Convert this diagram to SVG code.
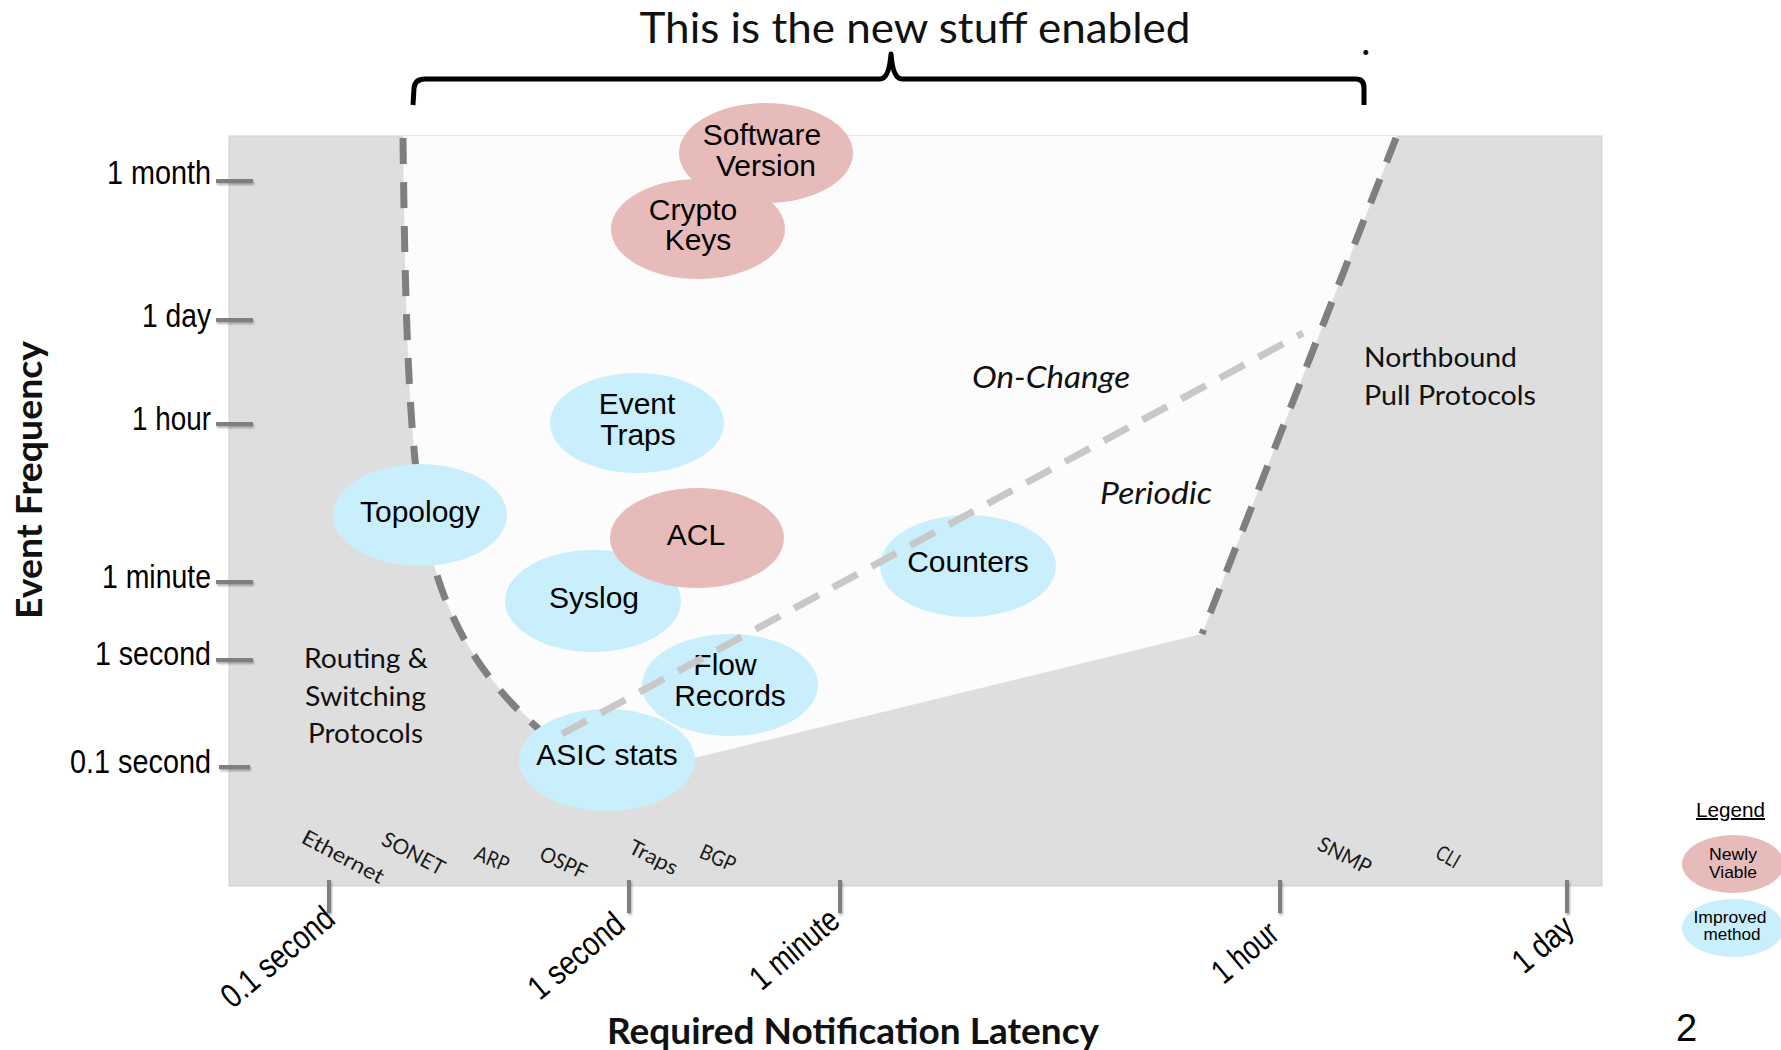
<svg xmlns="http://www.w3.org/2000/svg" width="1781" height="1050" viewBox="0 0 1781 1050">
  <defs>
    <style>
      .bg { fill: #ffffff; }
      .zone { fill: #dedede; }
      .open { fill: #fcfcfc; }
      .edge { fill: none; stroke: #7f7f7f; stroke-width: 7; stroke-dasharray: 26 18; }
      .split { fill: none; stroke: #c8c8c8; stroke-width: 7; stroke-dasharray: 28 16; }
      .tick { stroke: #7f7f7f; stroke-width: 4; }
      .new { fill: #e8bbbb; }
      .imp { fill: #c9effc; }
      .lbl { font-family: "Liberation Sans", Arial, sans-serif; font-size: 30px; fill: #000; text-anchor: middle; }
      .axn { font-family: "Liberation Sans", Arial, sans-serif; font-size: 34px; fill: #000; }
      .hum { font-family: Lato, "Open Sans", sans-serif; fill: #111; }
      .proto { font-family: Lato, "Open Sans", sans-serif; font-size: 21px; fill: #1a1a1a; }
      .leg { font-family: "Liberation Sans", Arial, sans-serif; font-size: 17px; fill: #000; text-anchor: middle; }
    </style>
    <filter id="soft" filterUnits="userSpaceOnUse" x="0" y="0" width="1781" height="1050">
      <feDropShadow dx="1" dy="2" stdDeviation="1.2" flood-color="#000" flood-opacity="0.3"/>
    </filter>
  </defs>

  <rect class="bg" x="0" y="0" width="1781" height="1050"/>

  <!-- heading and brace -->
  <g id="heading">
    <text x="915" y="43" class="hum" font-size="42" text-anchor="middle" textLength="551" lengthAdjust="spacingAndGlyphs" fill="#000">This is the new stuff enabled</text>
    <text x="1361" y="55" class="hum" font-size="40" fill="#000">.</text>
    <path d="M413,105 L414,88 Q415,79 425,79 L880,79 Q889,79 891,54 Q893,79 902,79 L1356,79 Q1364,79 1364,88 L1364,105" fill="none" stroke="#000" stroke-width="5" stroke-linejoin="round"/>
  </g>

  <!-- plot area -->
  <g id="plot">
    <rect class="zone" x="229" y="136" width="1373" height="750" stroke="#cfcfcf" stroke-width="1"/>
    <path class="open" d="M403,136 L1397,136 L1202,634 L694,758 L600,760 L540,728 C470,670 435,600 420,500 C408,420 405,300 403,136 Z"/>
  </g>

  <!-- region boundaries -->
  <g id="connectors">
    <path id="edge-left" class="edge" d="M403,138 C405,300 408,420 420,500 C435,600 470,670 540,730"/>
    <path id="edge-right" class="edge" d="M1396,138 L1202,634"/>
  </g>

  <!-- y axis -->
  <g id="y-axis">
    <g filter="url(#soft)">
      <line class="tick" x1="216" y1="181" x2="253" y2="181"/>
      <line class="tick" x1="216" y1="320" x2="253" y2="320"/>
      <line class="tick" x1="216" y1="424" x2="253" y2="424"/>
      <line class="tick" x1="216" y1="582" x2="253" y2="582"/>
      <line class="tick" x1="216" y1="660" x2="253" y2="660"/>
      <line class="tick" x1="219" y1="767" x2="250" y2="767"/>
    </g>
    <text class="axn" x="211" y="184" text-anchor="end" textLength="104" lengthAdjust="spacingAndGlyphs">1 month</text>
    <text class="axn" x="211" y="327" text-anchor="end" textLength="69" lengthAdjust="spacingAndGlyphs">1 day</text>
    <text class="axn" x="211" y="430" text-anchor="end" textLength="79" lengthAdjust="spacingAndGlyphs">1 hour</text>
    <text class="axn" x="211" y="588" text-anchor="end" textLength="109" lengthAdjust="spacingAndGlyphs">1 minute</text>
    <text class="axn" x="211" y="665" text-anchor="end" textLength="116" lengthAdjust="spacingAndGlyphs">1 second</text>
    <text class="axn" x="211" y="773" text-anchor="end" textLength="141" lengthAdjust="spacingAndGlyphs">0.1 second</text>
    <text class="hum" font-size="36" font-weight="bold" fill="#000" transform="translate(42,619) rotate(-90)" textLength="278" lengthAdjust="spacingAndGlyphs">Event Frequency</text>
  </g>

  <!-- x axis -->
  <g id="x-axis">
    <g filter="url(#soft)">
      <line class="tick" x1="329" y1="880" x2="329" y2="913"/>
      <line class="tick" x1="629" y1="880" x2="629" y2="913"/>
      <line class="tick" x1="840" y1="880" x2="840" y2="913"/>
      <line class="tick" x1="1280" y1="880" x2="1280" y2="913"/>
      <line class="tick" x1="1567" y1="880" x2="1567" y2="913"/>
    </g>
    <text class="axn" text-anchor="end" transform="translate(337,922) rotate(-40)" textLength="136" lengthAdjust="spacingAndGlyphs">0.1 second</text>
    <text class="axn" text-anchor="end" transform="translate(627,928) rotate(-40)" textLength="114" lengthAdjust="spacingAndGlyphs">1 second</text>
    <text class="axn" text-anchor="end" transform="translate(842,924) rotate(-40)" textLength="105" lengthAdjust="spacingAndGlyphs">1 minute</text>
    <text class="axn" text-anchor="end" transform="translate(1281,937) rotate(-40)" textLength="75" lengthAdjust="spacingAndGlyphs">1 hour</text>
    <text class="axn" text-anchor="end" transform="translate(1576,931) rotate(-40)" textLength="68" lengthAdjust="spacingAndGlyphs">1 day</text>
    <text class="hum" x="607" y="1044" font-size="36" font-weight="bold" fill="#000" textLength="492" lengthAdjust="spacingAndGlyphs">Required Notification Latency</text>
  </g>

  <!-- protocol names along the bottom -->
  <g id="protocols">
    <text class="proto" transform="translate(300,842) rotate(28)" textLength="90" lengthAdjust="spacingAndGlyphs">Ethernet</text>
    <text class="proto" transform="translate(380,844) rotate(28)" textLength="68" lengthAdjust="spacingAndGlyphs">SONET</text>
    <text class="proto" transform="translate(473,859) rotate(22)" textLength="35" lengthAdjust="spacingAndGlyphs">ARP</text>
    <text class="proto" transform="translate(538,859) rotate(25)" textLength="49" lengthAdjust="spacingAndGlyphs">OSPF</text>
    <text class="proto" transform="translate(627,852) rotate(27)" textLength="52" lengthAdjust="spacingAndGlyphs">Traps</text>
    <text class="proto" transform="translate(698,857) rotate(24)" textLength="37" lengthAdjust="spacingAndGlyphs">BGP</text>
    <text class="proto" transform="translate(1316,849) rotate(27)" textLength="57" lengthAdjust="spacingAndGlyphs">SNMP</text>
    <text class="proto" transform="translate(1434,857) rotate(30)" textLength="24" lengthAdjust="spacingAndGlyphs">CLI</text>
  </g>

  <!-- region captions -->
  <g id="captions">
    <text class="hum" font-size="27" x="304" y="668" textLength="124" lengthAdjust="spacingAndGlyphs">Routing &amp;</text>
    <text class="hum" font-size="27" x="305" y="706" textLength="121" lengthAdjust="spacingAndGlyphs">Switching</text>
    <text class="hum" font-size="27" x="308" y="743" textLength="115" lengthAdjust="spacingAndGlyphs">Protocols</text>
    <text class="hum" font-size="27" x="1364" y="367" textLength="153" lengthAdjust="spacingAndGlyphs">Northbound</text>
    <text class="hum" font-size="27" x="1364" y="405" textLength="172" lengthAdjust="spacingAndGlyphs">Pull Protocols</text>
    <text class="hum" font-size="30" font-style="italic" x="972" y="388" textLength="158" lengthAdjust="spacingAndGlyphs">On-Change</text>
    <text class="hum" font-size="30" font-style="italic" x="1100" y="504" textLength="112" lengthAdjust="spacingAndGlyphs">Periodic</text>
  </g>

  <!-- data types -->
  <g id="node-software-version">
    <ellipse class="new" cx="766" cy="153" rx="87" ry="50"/>
    <text class="lbl" x="762" y="145">Software</text>
    <text class="lbl" x="766" y="176">Version</text>
  </g>
  <g id="node-crypto-keys">
    <ellipse class="new" cx="698" cy="229" rx="87" ry="50"/>
    <text class="lbl" x="693" y="220">Crypto</text>
    <text class="lbl" x="698" y="250">Keys</text>
  </g>
  <g id="node-event-traps">
    <ellipse class="imp" cx="637" cy="423" rx="87" ry="50"/>
    <text class="lbl" x="637" y="414">Event</text>
    <text class="lbl" x="638" y="445">Traps</text>
  </g>
  <g id="node-topology">
    <ellipse class="imp" cx="420" cy="515" rx="87" ry="51"/>
    <text class="lbl" x="420" y="522">Topology</text>
  </g>
  <g id="node-syslog">
    <ellipse class="imp" cx="593" cy="601" rx="88" ry="51"/>
    <text class="lbl" x="594" y="608">Syslog</text>
  </g>
  <g id="node-acl">
    <ellipse class="new" cx="697" cy="538" rx="87" ry="50"/>
    <text class="lbl" x="696" y="545">ACL</text>
  </g>
  <g id="node-flow-records">
    <ellipse class="imp" cx="730" cy="685" rx="88" ry="51"/>
    <text class="lbl" x="725" y="675">Flow</text>
    <text class="lbl" x="730" y="706">Records</text>
  </g>
  <g id="node-asic-stats">
    <ellipse class="imp" cx="607" cy="760" rx="88" ry="51"/>
    <text class="lbl" x="607" y="765">ASIC stats</text>
  </g>
  <g id="node-counters">
    <ellipse class="imp" cx="968" cy="566" rx="88" ry="51"/>
    <text class="lbl" x="968" y="572">Counters</text>
  </g>

  <!-- on-change / periodic divider, drawn over the data types -->
  <g id="divider">
    <path class="split" d="M562,734 L1303,333"/>
  </g>

  <!-- key -->
  <g id="legend">
    <text x="1696" y="817" font-family="'Liberation Sans', Arial, sans-serif" font-size="20" textLength="69" lengthAdjust="spacingAndGlyphs" text-decoration="underline" fill="#000">Legend</text>
    <ellipse class="new" cx="1733" cy="864" rx="51" ry="29"/>
    <text class="leg" x="1733" y="860" textLength="48" lengthAdjust="spacingAndGlyphs">Newly</text>
    <text class="leg" x="1733" y="878" textLength="48" lengthAdjust="spacingAndGlyphs">Viable</text>
    <ellipse class="imp" cx="1733" cy="928" rx="51" ry="29"/>
    <text class="leg" x="1730" y="923" textLength="73" lengthAdjust="spacingAndGlyphs">Improved</text>
    <text class="leg" x="1732" y="940" textLength="57" lengthAdjust="spacingAndGlyphs">method</text>
  </g>

  <text x="1676" y="1041" font-family="'Liberation Sans', Arial, sans-serif" font-size="38" fill="#000">2</text>
</svg>
